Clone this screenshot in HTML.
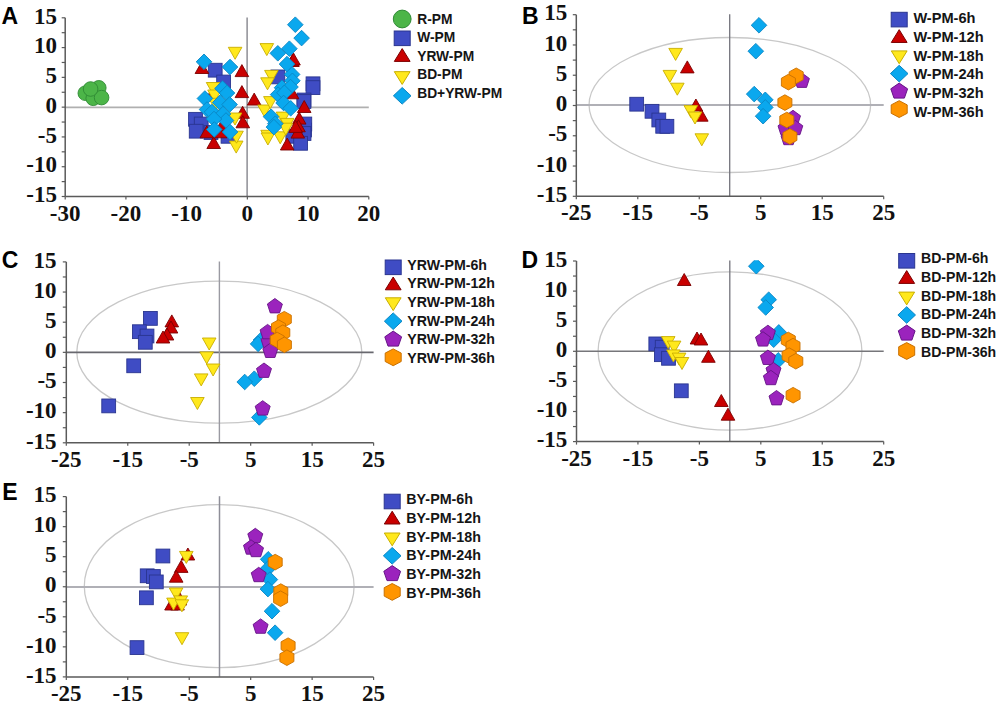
<!DOCTYPE html>
<html><head><meta charset="utf-8"><title>PCA score plots</title>
<style>
html,body{margin:0;padding:0;background:#fff;}
body{width:1000px;height:712px;overflow:hidden;}
svg{display:block;}
</style></head><body>
<svg width="1000" height="712" viewBox="0 0 1000 712">
<rect width="1000" height="712" fill="#fff"/>
<text x="1.5" y="23.8" style="font-family:&quot;Liberation Sans&quot;,sans-serif;font-weight:bold;font-size:23px" fill="#000">A</text>
<line x1="65.2" y1="107.4" x2="368.8" y2="107.4" stroke="#b0b0b0" stroke-width="1.8"/>
<line x1="247.1" y1="17.4" x2="247.1" y2="196.5" stroke="#7c7c84" stroke-width="1.3"/>
<line x1="65.2" y1="17.8" x2="65.2" y2="196.5" stroke="#5a5a5a" stroke-width="1.5"/>
<line x1="65.2" y1="196.5" x2="368.8" y2="196.5" stroke="#5a5a5a" stroke-width="1.5"/>
<line x1="61.7" y1="196.5" x2="65.2" y2="196.5" stroke="#5a5a5a" stroke-width="1.2"/>
<line x1="61.7" y1="181.61" x2="65.2" y2="181.61" stroke="#5a5a5a" stroke-width="1.2"/>
<line x1="61.7" y1="166.72" x2="65.2" y2="166.72" stroke="#5a5a5a" stroke-width="1.2"/>
<line x1="61.7" y1="151.82" x2="65.2" y2="151.82" stroke="#5a5a5a" stroke-width="1.2"/>
<line x1="61.7" y1="136.93" x2="65.2" y2="136.93" stroke="#5a5a5a" stroke-width="1.2"/>
<line x1="61.7" y1="122.04" x2="65.2" y2="122.04" stroke="#5a5a5a" stroke-width="1.2"/>
<line x1="61.7" y1="107.15" x2="65.2" y2="107.15" stroke="#5a5a5a" stroke-width="1.2"/>
<line x1="61.7" y1="92.26" x2="65.2" y2="92.26" stroke="#5a5a5a" stroke-width="1.2"/>
<line x1="61.7" y1="77.37" x2="65.2" y2="77.37" stroke="#5a5a5a" stroke-width="1.2"/>
<line x1="61.7" y1="62.47" x2="65.2" y2="62.47" stroke="#5a5a5a" stroke-width="1.2"/>
<line x1="61.7" y1="47.58" x2="65.2" y2="47.58" stroke="#5a5a5a" stroke-width="1.2"/>
<line x1="61.7" y1="32.69" x2="65.2" y2="32.69" stroke="#5a5a5a" stroke-width="1.2"/>
<line x1="61.7" y1="17.8" x2="65.2" y2="17.8" stroke="#5a5a5a" stroke-width="1.2"/>
<line x1="65.2" y1="196.5" x2="65.2" y2="199.5" stroke="#5a5a5a" stroke-width="1.2"/>
<line x1="125.92" y1="196.5" x2="125.92" y2="199.5" stroke="#5a5a5a" stroke-width="1.2"/>
<line x1="186.64" y1="196.5" x2="186.64" y2="199.5" stroke="#5a5a5a" stroke-width="1.2"/>
<line x1="247.36" y1="196.5" x2="247.36" y2="199.5" stroke="#5a5a5a" stroke-width="1.2"/>
<line x1="308.08" y1="196.5" x2="308.08" y2="199.5" stroke="#5a5a5a" stroke-width="1.2"/>
<line x1="368.8" y1="196.5" x2="368.8" y2="199.5" stroke="#5a5a5a" stroke-width="1.2"/>
<text x="57" y="23.5" text-anchor="end" style="font-family:&quot;Liberation Serif&quot;,serif;font-weight:bold;font-size:23px" fill="#111">15</text>
<text x="57" y="53.28" text-anchor="end" style="font-family:&quot;Liberation Serif&quot;,serif;font-weight:bold;font-size:23px" fill="#111">10</text>
<text x="57" y="83.07" text-anchor="end" style="font-family:&quot;Liberation Serif&quot;,serif;font-weight:bold;font-size:23px" fill="#111">5</text>
<text x="57" y="112.85" text-anchor="end" style="font-family:&quot;Liberation Serif&quot;,serif;font-weight:bold;font-size:23px" fill="#111">0</text>
<text x="57" y="142.63" text-anchor="end" style="font-family:&quot;Liberation Serif&quot;,serif;font-weight:bold;font-size:23px" fill="#111">-5</text>
<text x="57" y="172.42" text-anchor="end" style="font-family:&quot;Liberation Serif&quot;,serif;font-weight:bold;font-size:23px" fill="#111">-10</text>
<text x="57" y="202.2" text-anchor="end" style="font-family:&quot;Liberation Serif&quot;,serif;font-weight:bold;font-size:23px" fill="#111">-15</text>
<text x="65.2" y="220.5" text-anchor="middle" style="font-family:&quot;Liberation Serif&quot;,serif;font-weight:bold;font-size:23px" fill="#111">-30</text>
<text x="125.92" y="220.5" text-anchor="middle" style="font-family:&quot;Liberation Serif&quot;,serif;font-weight:bold;font-size:23px" fill="#111">-20</text>
<text x="186.64" y="220.5" text-anchor="middle" style="font-family:&quot;Liberation Serif&quot;,serif;font-weight:bold;font-size:23px" fill="#111">-10</text>
<text x="247.36" y="220.5" text-anchor="middle" style="font-family:&quot;Liberation Serif&quot;,serif;font-weight:bold;font-size:23px" fill="#111">0</text>
<text x="308.08" y="220.5" text-anchor="middle" style="font-family:&quot;Liberation Serif&quot;,serif;font-weight:bold;font-size:23px" fill="#111">10</text>
<text x="368.8" y="220.5" text-anchor="middle" style="font-family:&quot;Liberation Serif&quot;,serif;font-weight:bold;font-size:23px" fill="#111">20</text>
<ellipse cx="85.3" cy="93.2" rx="7.3" ry="7.3" fill="#4cb548" stroke="#2f8a34" stroke-width="0.9"/>
<ellipse cx="93.2" cy="98.3" rx="7.3" ry="7.3" fill="#4cb548" stroke="#2f8a34" stroke-width="0.9"/>
<ellipse cx="98.8" cy="87.8" rx="7.3" ry="7.3" fill="#4cb548" stroke="#2f8a34" stroke-width="0.9"/>
<ellipse cx="101.6" cy="97.6" rx="7.3" ry="7.3" fill="#4cb548" stroke="#2f8a34" stroke-width="0.9"/>
<ellipse cx="90.6" cy="89" rx="7.3" ry="7.3" fill="#4cb548" stroke="#2f8a34" stroke-width="0.9"/>
<rect x="208.3" y="63.3" width="13.8" height="13.8" fill="#3f4cc4" stroke="#2a3590" stroke-width="0.9"/>
<rect x="216.7" y="75.1" width="13.8" height="13.8" fill="#3f4cc4" stroke="#2a3590" stroke-width="0.9"/>
<rect x="188.6" y="112.4" width="13.8" height="13.8" fill="#3f4cc4" stroke="#2a3590" stroke-width="0.9"/>
<rect x="194.3" y="117.1" width="13.8" height="13.8" fill="#3f4cc4" stroke="#2a3590" stroke-width="0.9"/>
<rect x="189.3" y="124.3" width="13.8" height="13.8" fill="#3f4cc4" stroke="#2a3590" stroke-width="0.9"/>
<rect x="204.1" y="125.6" width="13.8" height="13.8" fill="#3f4cc4" stroke="#2a3590" stroke-width="0.9"/>
<rect x="221.1" y="129.4" width="13.8" height="13.8" fill="#3f4cc4" stroke="#2a3590" stroke-width="0.9"/>
<rect x="271" y="70" width="13.8" height="13.8" fill="#3f4cc4" stroke="#2a3590" stroke-width="0.9"/>
<rect x="306.1" y="76.9" width="13.8" height="13.8" fill="#3f4cc4" stroke="#2a3590" stroke-width="0.9"/>
<rect x="306.1" y="80.7" width="13.8" height="13.8" fill="#3f4cc4" stroke="#2a3590" stroke-width="0.9"/>
<rect x="297.1" y="93.1" width="13.8" height="13.8" fill="#3f4cc4" stroke="#2a3590" stroke-width="0.9"/>
<rect x="297" y="94.6" width="13.8" height="13.8" fill="#3f4cc4" stroke="#2a3590" stroke-width="0.9"/>
<rect x="297.6" y="123.1" width="13.8" height="13.8" fill="#3f4cc4" stroke="#2a3590" stroke-width="0.9"/>
<rect x="297.9" y="117.1" width="13.8" height="13.8" fill="#3f4cc4" stroke="#2a3590" stroke-width="0.9"/>
<rect x="297.1" y="126.6" width="13.8" height="13.8" fill="#3f4cc4" stroke="#2a3590" stroke-width="0.9"/>
<rect x="285.9" y="129.4" width="13.8" height="13.8" fill="#3f4cc4" stroke="#2a3590" stroke-width="0.9"/>
<rect x="293.7" y="136.4" width="13.8" height="13.8" fill="#3f4cc4" stroke="#2a3590" stroke-width="0.9"/>
<polygon points="201.9,61.5 208.7,73.5 195.1,73.5" fill="#c90000" stroke="#7a0000" stroke-width="0.9"/>
<polygon points="241.9,64.6 248.7,76.6 235.1,76.6" fill="#c90000" stroke="#7a0000" stroke-width="0.9"/>
<polygon points="241.9,85.6 248.7,97.6 235.1,97.6" fill="#c90000" stroke="#7a0000" stroke-width="0.9"/>
<polygon points="211.5,89 218.3,101 204.7,101" fill="#c90000" stroke="#7a0000" stroke-width="0.9"/>
<polygon points="242.6,106.3 249.4,118.3 235.8,118.3" fill="#c90000" stroke="#7a0000" stroke-width="0.9"/>
<polygon points="242.8,115.8 249.6,127.8 236,127.8" fill="#c90000" stroke="#7a0000" stroke-width="0.9"/>
<polygon points="213.7,136.5 220.5,148.5 206.9,148.5" fill="#c90000" stroke="#7a0000" stroke-width="0.9"/>
<polygon points="206.8,125.8 213.6,137.8 200,137.8" fill="#c90000" stroke="#7a0000" stroke-width="0.9"/>
<polygon points="220.3,125.8 227.1,137.8 213.5,137.8" fill="#c90000" stroke="#7a0000" stroke-width="0.9"/>
<polygon points="222.2,119 229,131 215.4,131" fill="#c90000" stroke="#7a0000" stroke-width="0.9"/>
<polygon points="292.4,54.5 299.2,66.5 285.6,66.5" fill="#c90000" stroke="#7a0000" stroke-width="0.9"/>
<polygon points="293.5,53 300.3,65 286.7,65" fill="#c90000" stroke="#7a0000" stroke-width="0.9"/>
<polygon points="292.1,86.8 298.9,98.8 285.3,98.8" fill="#c90000" stroke="#7a0000" stroke-width="0.9"/>
<polygon points="254.2,93.1 261,105.1 247.4,105.1" fill="#c90000" stroke="#7a0000" stroke-width="0.9"/>
<polygon points="304.2,100.5 311,112.5 297.4,112.5" fill="#c90000" stroke="#7a0000" stroke-width="0.9"/>
<polygon points="299.2,112.1 306,124.1 292.4,124.1" fill="#c90000" stroke="#7a0000" stroke-width="0.9"/>
<polygon points="298.5,119.8 305.3,131.8 291.7,131.8" fill="#c90000" stroke="#7a0000" stroke-width="0.9"/>
<polygon points="297.8,126.1 304.6,138.1 291,138.1" fill="#c90000" stroke="#7a0000" stroke-width="0.9"/>
<polygon points="287.2,138 294,150 280.4,150" fill="#c90000" stroke="#7a0000" stroke-width="0.9"/>
<polygon points="295.6,120.4 302.4,132.4 288.8,132.4" fill="#c90000" stroke="#7a0000" stroke-width="0.9"/>
<polygon points="228.3,47.3 241.9,47.3 235.1,59.3" fill="#ffe81c" stroke="#c8ae00" stroke-width="0.9"/>
<polygon points="206.3,82.5 219.9,82.5 213.1,94.5" fill="#ffe81c" stroke="#c8ae00" stroke-width="0.9"/>
<polygon points="207.7,90 221.3,90 214.5,102" fill="#ffe81c" stroke="#c8ae00" stroke-width="0.9"/>
<polygon points="208.8,98.3 222.4,98.3 215.6,110.3" fill="#ffe81c" stroke="#c8ae00" stroke-width="0.9"/>
<polygon points="208.7,110 222.3,110 215.5,122" fill="#ffe81c" stroke="#c8ae00" stroke-width="0.9"/>
<polygon points="204.2,111 217.8,111 211,123" fill="#ffe81c" stroke="#c8ae00" stroke-width="0.9"/>
<polygon points="228.2,113 241.8,113 235,125" fill="#ffe81c" stroke="#c8ae00" stroke-width="0.9"/>
<polygon points="229.4,141.1 243,141.1 236.2,153.1" fill="#ffe81c" stroke="#c8ae00" stroke-width="0.9"/>
<polygon points="229.7,131.2 243.3,131.2 236.5,143.2" fill="#ffe81c" stroke="#c8ae00" stroke-width="0.9"/>
<polygon points="260,43.6 273.6,43.6 266.8,55.6" fill="#ffe81c" stroke="#c8ae00" stroke-width="0.9"/>
<polygon points="264.6,70.4 278.2,70.4 271.4,82.4" fill="#ffe81c" stroke="#c8ae00" stroke-width="0.9"/>
<polygon points="260.7,77.8 274.3,77.8 267.5,89.8" fill="#ffe81c" stroke="#c8ae00" stroke-width="0.9"/>
<polygon points="257.7,105 271.3,105 264.5,117" fill="#ffe81c" stroke="#c8ae00" stroke-width="0.9"/>
<polygon points="263.6,96.6 277.2,96.6 270.4,108.6" fill="#ffe81c" stroke="#c8ae00" stroke-width="0.9"/>
<polygon points="276.2,112.1 289.8,112.1 283,124.1" fill="#ffe81c" stroke="#c8ae00" stroke-width="0.9"/>
<polygon points="280.4,118.4 294,118.4 287.2,130.4" fill="#ffe81c" stroke="#c8ae00" stroke-width="0.9"/>
<polygon points="260.8,130.3 274.4,130.3 267.6,142.3" fill="#ffe81c" stroke="#c8ae00" stroke-width="0.9"/>
<polygon points="273.4,131.8 287,131.8 280.2,143.8" fill="#ffe81c" stroke="#c8ae00" stroke-width="0.9"/>
<polygon points="261.1,133 274.7,133 267.9,145" fill="#ffe81c" stroke="#c8ae00" stroke-width="0.9"/>
<polygon points="279,123.2 292.6,123.2 285.8,135.2" fill="#ffe81c" stroke="#c8ae00" stroke-width="0.9"/>
<polygon points="204,54 211.8,61.8 204,69.6 196.2,61.8" fill="#0aa8ee" stroke="#0a86c4" stroke-width="0.9"/>
<polygon points="230,59.2 237.8,67 230,74.8 222.2,67" fill="#0aa8ee" stroke="#0a86c4" stroke-width="0.9"/>
<polygon points="222.5,80.7 230.3,88.5 222.5,96.3 214.7,88.5" fill="#0aa8ee" stroke="#0a86c4" stroke-width="0.9"/>
<polygon points="227,85.2 234.8,93 227,100.8 219.2,93" fill="#0aa8ee" stroke="#0a86c4" stroke-width="0.9"/>
<polygon points="204.9,90.7 212.7,98.5 204.9,106.3 197.1,98.5" fill="#0aa8ee" stroke="#0a86c4" stroke-width="0.9"/>
<polygon points="220.2,94.8 228,102.6 220.2,110.4 212.4,102.6" fill="#0aa8ee" stroke="#0a86c4" stroke-width="0.9"/>
<polygon points="229.6,96.7 237.4,104.5 229.6,112.3 221.8,104.5" fill="#0aa8ee" stroke="#0a86c4" stroke-width="0.9"/>
<polygon points="207,101.7 214.8,109.5 207,117.3 199.2,109.5" fill="#0aa8ee" stroke="#0a86c4" stroke-width="0.9"/>
<polygon points="212,104.2 219.8,112 212,119.8 204.2,112" fill="#0aa8ee" stroke="#0a86c4" stroke-width="0.9"/>
<polygon points="223,106.2 230.8,114 223,121.8 215.2,114" fill="#0aa8ee" stroke="#0a86c4" stroke-width="0.9"/>
<polygon points="226,112.7 233.8,120.5 226,128.3 218.2,120.5" fill="#0aa8ee" stroke="#0a86c4" stroke-width="0.9"/>
<polygon points="214,111.2 221.8,119 214,126.8 206.2,119" fill="#0aa8ee" stroke="#0a86c4" stroke-width="0.9"/>
<polygon points="214.3,121.7 222.1,129.5 214.3,137.3 206.5,129.5" fill="#0aa8ee" stroke="#0a86c4" stroke-width="0.9"/>
<polygon points="230,124.2 237.8,132 230,139.8 222.2,132" fill="#0aa8ee" stroke="#0a86c4" stroke-width="0.9"/>
<polygon points="295.3,16.9 303.1,24.7 295.3,32.5 287.5,24.7" fill="#0aa8ee" stroke="#0a86c4" stroke-width="0.9"/>
<polygon points="301.6,30.3 309.4,38.1 301.6,45.9 293.8,38.1" fill="#0aa8ee" stroke="#0a86c4" stroke-width="0.9"/>
<polygon points="289.4,40.9 297.2,48.7 289.4,56.5 281.6,48.7" fill="#0aa8ee" stroke="#0a86c4" stroke-width="0.9"/>
<polygon points="277.8,45.5 285.6,53.3 277.8,61.1 270,53.3" fill="#0aa8ee" stroke="#0a86c4" stroke-width="0.9"/>
<polygon points="287,56.3 294.8,64.1 287,71.9 279.2,64.1" fill="#0aa8ee" stroke="#0a86c4" stroke-width="0.9"/>
<polygon points="292.1,66.6 299.9,74.4 292.1,82.2 284.3,74.4" fill="#0aa8ee" stroke="#0a86c4" stroke-width="0.9"/>
<polygon points="292.4,73 300.2,80.8 292.4,88.6 284.6,80.8" fill="#0aa8ee" stroke="#0a86c4" stroke-width="0.9"/>
<polygon points="282,79.9 289.8,87.7 282,95.5 274.2,87.7" fill="#0aa8ee" stroke="#0a86c4" stroke-width="0.9"/>
<polygon points="290.5,79.2 298.3,87 290.5,94.8 282.7,87" fill="#0aa8ee" stroke="#0a86c4" stroke-width="0.9"/>
<polygon points="278.1,86.8 285.9,94.6 278.1,102.4 270.3,94.6" fill="#0aa8ee" stroke="#0a86c4" stroke-width="0.9"/>
<polygon points="284.4,85 292.2,92.8 284.4,100.6 276.6,92.8" fill="#0aa8ee" stroke="#0a86c4" stroke-width="0.9"/>
<polygon points="283.6,95.2 291.4,103 283.6,110.8 275.8,103" fill="#0aa8ee" stroke="#0a86c4" stroke-width="0.9"/>
<polygon points="290.7,100.5 298.5,108.3 290.7,116.1 282.9,108.3" fill="#0aa8ee" stroke="#0a86c4" stroke-width="0.9"/>
<polygon points="271.1,108.9 278.9,116.7 271.1,124.5 263.3,116.7" fill="#0aa8ee" stroke="#0a86c4" stroke-width="0.9"/>
<polygon points="275.3,115.9 283.1,123.7 275.3,131.5 267.5,123.7" fill="#0aa8ee" stroke="#0a86c4" stroke-width="0.9"/>
<polygon points="273.9,119.3 281.7,127.1 273.9,134.9 266.1,127.1" fill="#0aa8ee" stroke="#0a86c4" stroke-width="0.9"/>
<ellipse cx="402.2" cy="19" rx="8.9" ry="8.9" fill="#4cb548" stroke="#2f8a34" stroke-width="1.0"/>
<text x="417.2" y="23.5" style="font-family:&quot;Liberation Sans&quot;,sans-serif;font-weight:bold;font-size:13.8px" fill="#151515">R-PM</text>
<rect x="394.2" y="31" width="16" height="14.6" fill="#3f4cc4" stroke="#2a3590" stroke-width="1.0"/>
<text x="417.2" y="42.3" style="font-family:&quot;Liberation Sans&quot;,sans-serif;font-weight:bold;font-size:13.8px" fill="#151515">W-PM</text>
<polygon points="402.2,48.6 410.1,61.4 394.3,61.4" fill="#c90000" stroke="#7a0000" stroke-width="1.0"/>
<text x="417.2" y="60.7" style="font-family:&quot;Liberation Sans&quot;,sans-serif;font-weight:bold;font-size:13.8px" fill="#151515">YRW-PM</text>
<polygon points="394.3,71.65 410.1,71.65 402.2,84.45" fill="#ffe81c" stroke="#c8ae00" stroke-width="1.0"/>
<text x="417.2" y="79.3" style="font-family:&quot;Liberation Sans&quot;,sans-serif;font-weight:bold;font-size:13.8px" fill="#151515">BD-PM</text>
<polygon points="402.2,87.5 411,95.8 402.2,104.1 393.4,95.8" fill="#0aa8ee" stroke="#0a86c4" stroke-width="1.0"/>
<text x="417.2" y="97.9" style="font-family:&quot;Liberation Sans&quot;,sans-serif;font-weight:bold;font-size:13.8px" fill="#151515">BD+YRW-PM</text>
<text x="522" y="23.8" style="font-family:&quot;Liberation Sans&quot;,sans-serif;font-weight:bold;font-size:23px" fill="#000">B</text>
<ellipse cx="729.85" cy="105" rx="140.8" ry="67.5" fill="none" stroke="#c8c8c8" stroke-width="1.3"/>
<line x1="576.3" y1="105" x2="883.7" y2="105" stroke="#b0b0b6" stroke-width="1.8"/>
<line x1="729.7" y1="14.3" x2="729.7" y2="196.3" stroke="#74747c" stroke-width="1.3"/>
<line x1="576.3" y1="14.7" x2="576.3" y2="196.3" stroke="#5a5a5a" stroke-width="1.5"/>
<line x1="576.3" y1="196.3" x2="883.7" y2="196.3" stroke="#5a5a5a" stroke-width="1.5"/>
<line x1="572.8" y1="196.3" x2="576.3" y2="196.3" stroke="#5a5a5a" stroke-width="1.2"/>
<line x1="572.8" y1="181.17" x2="576.3" y2="181.17" stroke="#5a5a5a" stroke-width="1.2"/>
<line x1="572.8" y1="166.03" x2="576.3" y2="166.03" stroke="#5a5a5a" stroke-width="1.2"/>
<line x1="572.8" y1="150.9" x2="576.3" y2="150.9" stroke="#5a5a5a" stroke-width="1.2"/>
<line x1="572.8" y1="135.77" x2="576.3" y2="135.77" stroke="#5a5a5a" stroke-width="1.2"/>
<line x1="572.8" y1="120.63" x2="576.3" y2="120.63" stroke="#5a5a5a" stroke-width="1.2"/>
<line x1="572.8" y1="105.5" x2="576.3" y2="105.5" stroke="#5a5a5a" stroke-width="1.2"/>
<line x1="572.8" y1="90.37" x2="576.3" y2="90.37" stroke="#5a5a5a" stroke-width="1.2"/>
<line x1="572.8" y1="75.23" x2="576.3" y2="75.23" stroke="#5a5a5a" stroke-width="1.2"/>
<line x1="572.8" y1="60.1" x2="576.3" y2="60.1" stroke="#5a5a5a" stroke-width="1.2"/>
<line x1="572.8" y1="44.97" x2="576.3" y2="44.97" stroke="#5a5a5a" stroke-width="1.2"/>
<line x1="572.8" y1="29.83" x2="576.3" y2="29.83" stroke="#5a5a5a" stroke-width="1.2"/>
<line x1="572.8" y1="14.7" x2="576.3" y2="14.7" stroke="#5a5a5a" stroke-width="1.2"/>
<line x1="576.3" y1="196.3" x2="576.3" y2="199.3" stroke="#5a5a5a" stroke-width="1.2"/>
<line x1="637.78" y1="196.3" x2="637.78" y2="199.3" stroke="#5a5a5a" stroke-width="1.2"/>
<line x1="699.26" y1="196.3" x2="699.26" y2="199.3" stroke="#5a5a5a" stroke-width="1.2"/>
<line x1="760.74" y1="196.3" x2="760.74" y2="199.3" stroke="#5a5a5a" stroke-width="1.2"/>
<line x1="822.22" y1="196.3" x2="822.22" y2="199.3" stroke="#5a5a5a" stroke-width="1.2"/>
<line x1="883.7" y1="196.3" x2="883.7" y2="199.3" stroke="#5a5a5a" stroke-width="1.2"/>
<text x="567.3" y="20.4" text-anchor="end" style="font-family:&quot;Liberation Serif&quot;,serif;font-weight:bold;font-size:23px" fill="#111">15</text>
<text x="567.3" y="50.67" text-anchor="end" style="font-family:&quot;Liberation Serif&quot;,serif;font-weight:bold;font-size:23px" fill="#111">10</text>
<text x="567.3" y="80.93" text-anchor="end" style="font-family:&quot;Liberation Serif&quot;,serif;font-weight:bold;font-size:23px" fill="#111">5</text>
<text x="567.3" y="111.2" text-anchor="end" style="font-family:&quot;Liberation Serif&quot;,serif;font-weight:bold;font-size:23px" fill="#111">0</text>
<text x="567.3" y="141.47" text-anchor="end" style="font-family:&quot;Liberation Serif&quot;,serif;font-weight:bold;font-size:23px" fill="#111">-5</text>
<text x="567.3" y="171.73" text-anchor="end" style="font-family:&quot;Liberation Serif&quot;,serif;font-weight:bold;font-size:23px" fill="#111">-10</text>
<text x="567.3" y="202" text-anchor="end" style="font-family:&quot;Liberation Serif&quot;,serif;font-weight:bold;font-size:23px" fill="#111">-15</text>
<text x="576.3" y="220.3" text-anchor="middle" style="font-family:&quot;Liberation Serif&quot;,serif;font-weight:bold;font-size:23px" fill="#111">-25</text>
<text x="637.78" y="220.3" text-anchor="middle" style="font-family:&quot;Liberation Serif&quot;,serif;font-weight:bold;font-size:23px" fill="#111">-15</text>
<text x="699.26" y="220.3" text-anchor="middle" style="font-family:&quot;Liberation Serif&quot;,serif;font-weight:bold;font-size:23px" fill="#111">-5</text>
<text x="760.74" y="220.3" text-anchor="middle" style="font-family:&quot;Liberation Serif&quot;,serif;font-weight:bold;font-size:23px" fill="#111">5</text>
<text x="822.22" y="220.3" text-anchor="middle" style="font-family:&quot;Liberation Serif&quot;,serif;font-weight:bold;font-size:23px" fill="#111">15</text>
<text x="883.7" y="220.3" text-anchor="middle" style="font-family:&quot;Liberation Serif&quot;,serif;font-weight:bold;font-size:23px" fill="#111">25</text>
<rect x="629.8" y="97.3" width="13.8" height="13.8" fill="#3f4cc4" stroke="#2a3590" stroke-width="0.9"/>
<rect x="645.1" y="104.4" width="13.8" height="13.8" fill="#3f4cc4" stroke="#2a3590" stroke-width="0.9"/>
<rect x="651.9" y="113.1" width="13.8" height="13.8" fill="#3f4cc4" stroke="#2a3590" stroke-width="0.9"/>
<rect x="655.8" y="119.4" width="13.8" height="13.8" fill="#3f4cc4" stroke="#2a3590" stroke-width="0.9"/>
<rect x="660" y="119.4" width="13.8" height="13.8" fill="#3f4cc4" stroke="#2a3590" stroke-width="0.9"/>
<polygon points="687.3,60.9 694.1,72.9 680.5,72.9" fill="#c90000" stroke="#7a0000" stroke-width="0.9"/>
<polygon points="695.9,99 702.7,111 689.1,111" fill="#c90000" stroke="#7a0000" stroke-width="0.9"/>
<polygon points="701.3,109.2 708.1,121.2 694.5,121.2" fill="#c90000" stroke="#7a0000" stroke-width="0.9"/>
<polygon points="668.8,48.4 682.4,48.4 675.6,60.4" fill="#ffe81c" stroke="#c8ae00" stroke-width="0.9"/>
<polygon points="663.1,70.4 676.7,70.4 669.9,82.4" fill="#ffe81c" stroke="#c8ae00" stroke-width="0.9"/>
<polygon points="670.5,83.2 684.1,83.2 677.3,95.2" fill="#ffe81c" stroke="#c8ae00" stroke-width="0.9"/>
<polygon points="684,105.6 697.6,105.6 690.8,117.6" fill="#ffe81c" stroke="#c8ae00" stroke-width="0.9"/>
<polygon points="688.2,112 701.8,112 695,124" fill="#ffe81c" stroke="#c8ae00" stroke-width="0.9"/>
<polygon points="695,133.8 708.6,133.8 701.8,145.8" fill="#ffe81c" stroke="#c8ae00" stroke-width="0.9"/>
<polygon points="759,17.5 766.8,25.3 759,33.1 751.2,25.3" fill="#0aa8ee" stroke="#0a86c4" stroke-width="0.9"/>
<polygon points="755.8,43.4 763.6,51.2 755.8,59 748,51.2" fill="#0aa8ee" stroke="#0a86c4" stroke-width="0.9"/>
<polygon points="754.2,86.3 762,94.1 754.2,101.9 746.4,94.1" fill="#0aa8ee" stroke="#0a86c4" stroke-width="0.9"/>
<polygon points="765.3,92 773.1,99.8 765.3,107.6 757.5,99.8" fill="#0aa8ee" stroke="#0a86c4" stroke-width="0.9"/>
<polygon points="765.3,99.6 773.1,107.4 765.3,115.2 757.5,107.4" fill="#0aa8ee" stroke="#0a86c4" stroke-width="0.9"/>
<polygon points="763.1,108.4 770.9,116.2 763.1,124 755.3,116.2" fill="#0aa8ee" stroke="#0a86c4" stroke-width="0.9"/>
<polygon points="801.9,73 809.4,78.5 806.54,87.4 797.26,87.4 794.4,78.5" fill="#9b23bd" stroke="#661487" stroke-width="0.9"/>
<polygon points="793,110.3 800.5,115.8 797.64,124.7 788.36,124.7 785.5,115.8" fill="#9b23bd" stroke="#661487" stroke-width="0.9"/>
<polygon points="785.5,120.3 793,125.8 790.14,134.7 780.86,134.7 778,125.8" fill="#9b23bd" stroke="#661487" stroke-width="0.9"/>
<polygon points="795.3,120.3 802.8,125.8 799.94,134.7 790.66,134.7 787.8,125.8" fill="#9b23bd" stroke="#661487" stroke-width="0.9"/>
<polygon points="788.5,130.3 796,135.8 793.14,144.7 783.86,144.7 781,135.8" fill="#9b23bd" stroke="#661487" stroke-width="0.9"/>
<polygon points="796.2,68 803.2,71.9 803.2,79.7 796.2,83.6 789.2,79.7 789.2,71.9" fill="#ff9500" stroke="#c87000" stroke-width="0.9"/>
<polygon points="788.4,74.3 795.4,78.2 795.4,86 788.4,89.9 781.4,86 781.4,78.2" fill="#ff9500" stroke="#c87000" stroke-width="0.9"/>
<polygon points="784.9,94.8 791.9,98.7 791.9,106.5 784.9,110.4 777.9,106.5 777.9,98.7" fill="#ff9500" stroke="#c87000" stroke-width="0.9"/>
<polygon points="786.8,112.2 793.8,116.1 793.8,123.9 786.8,127.8 779.8,123.9 779.8,116.1" fill="#ff9500" stroke="#c87000" stroke-width="0.9"/>
<polygon points="789.9,128.7 796.9,132.6 796.9,140.4 789.9,144.3 782.9,140.4 782.9,132.6" fill="#ff9500" stroke="#c87000" stroke-width="0.9"/>
<rect x="891.2" y="12.3" width="16" height="14.6" fill="#3f4cc4" stroke="#2a3590" stroke-width="1.0"/>
<text x="913.4" y="23.2" style="font-family:&quot;Liberation Sans&quot;,sans-serif;font-weight:bold;font-size:14.6px" fill="#151515">W-PM-6h</text>
<polygon points="899.2,29.65 907.1,42.45 891.3,42.45" fill="#c90000" stroke="#7a0000" stroke-width="1.0"/>
<text x="913.4" y="42" style="font-family:&quot;Liberation Sans&quot;,sans-serif;font-weight:bold;font-size:14.6px" fill="#151515">W-PM-12h</text>
<polygon points="891.3,50.9 907.1,50.9 899.2,63.7" fill="#ffe81c" stroke="#c8ae00" stroke-width="1.0"/>
<text x="913.4" y="60.7" style="font-family:&quot;Liberation Sans&quot;,sans-serif;font-weight:bold;font-size:14.6px" fill="#151515">W-PM-18h</text>
<polygon points="899.2,65.3 908,73.6 899.2,81.9 890.4,73.6" fill="#0aa8ee" stroke="#0a86c4" stroke-width="1.0"/>
<text x="913.4" y="79.4" style="font-family:&quot;Liberation Sans&quot;,sans-serif;font-weight:bold;font-size:14.6px" fill="#151515">W-PM-24h</text>
<polygon points="899.2,83.1 907.6,88.83 904.39,98.1 894.01,98.1 890.8,88.83" fill="#9b23bd" stroke="#661487" stroke-width="1.0"/>
<text x="913.4" y="98.1" style="font-family:&quot;Liberation Sans&quot;,sans-serif;font-weight:bold;font-size:14.6px" fill="#151515">W-PM-32h</text>
<polygon points="899.2,100.7 907.2,104.9 907.2,113.3 899.2,117.5 891.2,113.3 891.2,104.9" fill="#ff9500" stroke="#c87000" stroke-width="1.0"/>
<text x="913.4" y="116.8" style="font-family:&quot;Liberation Sans&quot;,sans-serif;font-weight:bold;font-size:14.6px" fill="#151515">W-PM-36h</text>
<text x="1.8" y="268" style="font-family:&quot;Liberation Sans&quot;,sans-serif;font-weight:bold;font-size:23px" fill="#000">C</text>
<ellipse cx="219.3" cy="352.1" rx="142.5" ry="71" fill="none" stroke="#c8c8c8" stroke-width="1.3"/>
<line x1="66.3" y1="352.45" x2="373.6" y2="352.45" stroke="#68686f" stroke-width="1.8"/>
<line x1="219.4" y1="261.5" x2="219.4" y2="442.8" stroke="#9a9aa2" stroke-width="1.4"/>
<line x1="66.3" y1="261.9" x2="66.3" y2="442.8" stroke="#5a5a5a" stroke-width="1.5"/>
<line x1="66.3" y1="442.8" x2="373.6" y2="442.8" stroke="#5a5a5a" stroke-width="1.5"/>
<line x1="62.8" y1="442.8" x2="66.3" y2="442.8" stroke="#5a5a5a" stroke-width="1.2"/>
<line x1="62.8" y1="427.73" x2="66.3" y2="427.73" stroke="#5a5a5a" stroke-width="1.2"/>
<line x1="62.8" y1="412.65" x2="66.3" y2="412.65" stroke="#5a5a5a" stroke-width="1.2"/>
<line x1="62.8" y1="397.57" x2="66.3" y2="397.57" stroke="#5a5a5a" stroke-width="1.2"/>
<line x1="62.8" y1="382.5" x2="66.3" y2="382.5" stroke="#5a5a5a" stroke-width="1.2"/>
<line x1="62.8" y1="367.43" x2="66.3" y2="367.43" stroke="#5a5a5a" stroke-width="1.2"/>
<line x1="62.8" y1="352.35" x2="66.3" y2="352.35" stroke="#5a5a5a" stroke-width="1.2"/>
<line x1="62.8" y1="337.27" x2="66.3" y2="337.27" stroke="#5a5a5a" stroke-width="1.2"/>
<line x1="62.8" y1="322.2" x2="66.3" y2="322.2" stroke="#5a5a5a" stroke-width="1.2"/>
<line x1="62.8" y1="307.12" x2="66.3" y2="307.12" stroke="#5a5a5a" stroke-width="1.2"/>
<line x1="62.8" y1="292.05" x2="66.3" y2="292.05" stroke="#5a5a5a" stroke-width="1.2"/>
<line x1="62.8" y1="276.97" x2="66.3" y2="276.97" stroke="#5a5a5a" stroke-width="1.2"/>
<line x1="62.8" y1="261.9" x2="66.3" y2="261.9" stroke="#5a5a5a" stroke-width="1.2"/>
<line x1="66.3" y1="442.8" x2="66.3" y2="445.8" stroke="#5a5a5a" stroke-width="1.2"/>
<line x1="127.76" y1="442.8" x2="127.76" y2="445.8" stroke="#5a5a5a" stroke-width="1.2"/>
<line x1="189.22" y1="442.8" x2="189.22" y2="445.8" stroke="#5a5a5a" stroke-width="1.2"/>
<line x1="250.68" y1="442.8" x2="250.68" y2="445.8" stroke="#5a5a5a" stroke-width="1.2"/>
<line x1="312.14" y1="442.8" x2="312.14" y2="445.8" stroke="#5a5a5a" stroke-width="1.2"/>
<line x1="373.6" y1="442.8" x2="373.6" y2="445.8" stroke="#5a5a5a" stroke-width="1.2"/>
<text x="56.6" y="267.6" text-anchor="end" style="font-family:&quot;Liberation Serif&quot;,serif;font-weight:bold;font-size:23px" fill="#111">15</text>
<text x="56.6" y="297.75" text-anchor="end" style="font-family:&quot;Liberation Serif&quot;,serif;font-weight:bold;font-size:23px" fill="#111">10</text>
<text x="56.6" y="327.9" text-anchor="end" style="font-family:&quot;Liberation Serif&quot;,serif;font-weight:bold;font-size:23px" fill="#111">5</text>
<text x="56.6" y="358.05" text-anchor="end" style="font-family:&quot;Liberation Serif&quot;,serif;font-weight:bold;font-size:23px" fill="#111">0</text>
<text x="56.6" y="388.2" text-anchor="end" style="font-family:&quot;Liberation Serif&quot;,serif;font-weight:bold;font-size:23px" fill="#111">-5</text>
<text x="56.6" y="418.35" text-anchor="end" style="font-family:&quot;Liberation Serif&quot;,serif;font-weight:bold;font-size:23px" fill="#111">-10</text>
<text x="56.6" y="448.5" text-anchor="end" style="font-family:&quot;Liberation Serif&quot;,serif;font-weight:bold;font-size:23px" fill="#111">-15</text>
<text x="66.3" y="466.8" text-anchor="middle" style="font-family:&quot;Liberation Serif&quot;,serif;font-weight:bold;font-size:23px" fill="#111">-25</text>
<text x="127.76" y="466.8" text-anchor="middle" style="font-family:&quot;Liberation Serif&quot;,serif;font-weight:bold;font-size:23px" fill="#111">-15</text>
<text x="189.22" y="466.8" text-anchor="middle" style="font-family:&quot;Liberation Serif&quot;,serif;font-weight:bold;font-size:23px" fill="#111">-5</text>
<text x="250.68" y="466.8" text-anchor="middle" style="font-family:&quot;Liberation Serif&quot;,serif;font-weight:bold;font-size:23px" fill="#111">5</text>
<text x="312.14" y="466.8" text-anchor="middle" style="font-family:&quot;Liberation Serif&quot;,serif;font-weight:bold;font-size:23px" fill="#111">15</text>
<text x="373.6" y="466.8" text-anchor="middle" style="font-family:&quot;Liberation Serif&quot;,serif;font-weight:bold;font-size:23px" fill="#111">25</text>
<rect x="143.5" y="311.5" width="13.8" height="13.8" fill="#3f4cc4" stroke="#2a3590" stroke-width="0.9"/>
<rect x="132.5" y="324.8" width="13.8" height="13.8" fill="#3f4cc4" stroke="#2a3590" stroke-width="0.9"/>
<rect x="140.1" y="329.1" width="13.8" height="13.8" fill="#3f4cc4" stroke="#2a3590" stroke-width="0.9"/>
<rect x="138.4" y="335.4" width="13.8" height="13.8" fill="#3f4cc4" stroke="#2a3590" stroke-width="0.9"/>
<rect x="126.8" y="358.9" width="13.8" height="13.8" fill="#3f4cc4" stroke="#2a3590" stroke-width="0.9"/>
<rect x="101.8" y="399" width="13.8" height="13.8" fill="#3f4cc4" stroke="#2a3590" stroke-width="0.9"/>
<polygon points="171.8,314.9 178.6,326.9 165,326.9" fill="#c90000" stroke="#7a0000" stroke-width="0.9"/>
<polygon points="171,321 177.8,333 164.2,333" fill="#c90000" stroke="#7a0000" stroke-width="0.9"/>
<polygon points="167,328 173.8,340 160.2,340" fill="#c90000" stroke="#7a0000" stroke-width="0.9"/>
<polygon points="163,331 169.8,343 156.2,343" fill="#c90000" stroke="#7a0000" stroke-width="0.9"/>
<polygon points="202.4,338 216,338 209.2,350" fill="#ffe81c" stroke="#c8ae00" stroke-width="0.9"/>
<polygon points="199.9,351.9 213.5,351.9 206.7,363.9" fill="#ffe81c" stroke="#c8ae00" stroke-width="0.9"/>
<polygon points="206.3,364 219.9,364 213.1,376" fill="#ffe81c" stroke="#c8ae00" stroke-width="0.9"/>
<polygon points="194.4,373.9 208,373.9 201.2,385.9" fill="#ffe81c" stroke="#c8ae00" stroke-width="0.9"/>
<polygon points="190.6,397.5 204.2,397.5 197.4,409.5" fill="#ffe81c" stroke="#c8ae00" stroke-width="0.9"/>
<polygon points="261,332.2 268.8,340 261,347.8 253.2,340" fill="#0aa8ee" stroke="#0a86c4" stroke-width="0.9"/>
<polygon points="258.1,336.1 265.9,343.9 258.1,351.7 250.3,343.9" fill="#0aa8ee" stroke="#0a86c4" stroke-width="0.9"/>
<polygon points="254.3,370.9 262.1,378.7 254.3,386.5 246.5,378.7" fill="#0aa8ee" stroke="#0a86c4" stroke-width="0.9"/>
<polygon points="244.7,374.2 252.5,382 244.7,389.8 236.9,382" fill="#0aa8ee" stroke="#0a86c4" stroke-width="0.9"/>
<polygon points="259.3,409.6 267.1,417.4 259.3,425.2 251.5,417.4" fill="#0aa8ee" stroke="#0a86c4" stroke-width="0.9"/>
<polygon points="274.9,298.5 282.4,304 279.54,312.9 270.26,312.9 267.4,304" fill="#9b23bd" stroke="#661487" stroke-width="0.9"/>
<polygon points="268.5,333.8 276,339.3 273.14,348.2 263.86,348.2 261,339.3" fill="#9b23bd" stroke="#661487" stroke-width="0.9"/>
<polygon points="267.6,324.4 275.1,329.9 272.24,338.8 262.96,338.8 260.1,329.9" fill="#9b23bd" stroke="#661487" stroke-width="0.9"/>
<polygon points="270.3,343.1 277.8,348.6 274.94,357.5 265.66,357.5 262.8,348.6" fill="#9b23bd" stroke="#661487" stroke-width="0.9"/>
<polygon points="264,363 271.5,368.5 268.64,377.4 259.36,377.4 256.5,368.5" fill="#9b23bd" stroke="#661487" stroke-width="0.9"/>
<polygon points="262.7,400.7 270.2,406.2 267.34,415.1 258.06,415.1 255.2,406.2" fill="#9b23bd" stroke="#661487" stroke-width="0.9"/>
<polygon points="284.3,311.4 291.3,315.3 291.3,323.1 284.3,327 277.3,323.1 277.3,315.3" fill="#ff9500" stroke="#c87000" stroke-width="0.9"/>
<polygon points="278.5,319.8 285.5,323.7 285.5,331.5 278.5,335.4 271.5,331.5 271.5,323.7" fill="#ff9500" stroke="#c87000" stroke-width="0.9"/>
<polygon points="282.8,324.9 289.8,328.8 289.8,336.6 282.8,340.5 275.8,336.6 275.8,328.8" fill="#ff9500" stroke="#c87000" stroke-width="0.9"/>
<polygon points="277.2,332.2 284.2,336.1 284.2,343.9 277.2,347.8 270.2,343.9 270.2,336.1" fill="#ff9500" stroke="#c87000" stroke-width="0.9"/>
<polygon points="284.4,337 291.4,340.9 291.4,348.7 284.4,352.6 277.4,348.7 277.4,340.9" fill="#ff9500" stroke="#c87000" stroke-width="0.9"/>
<rect x="385.2" y="260" width="16" height="14.6" fill="#3f4cc4" stroke="#2a3590" stroke-width="1.0"/>
<text x="407.2" y="269.6" style="font-family:&quot;Liberation Sans&quot;,sans-serif;font-weight:bold;font-size:14.2px" fill="#151515">YRW-PM-6h</text>
<polygon points="393.2,277 401.1,289.8 385.3,289.8" fill="#c90000" stroke="#7a0000" stroke-width="1.0"/>
<text x="407.2" y="288.3" style="font-family:&quot;Liberation Sans&quot;,sans-serif;font-weight:bold;font-size:14.2px" fill="#151515">YRW-PM-12h</text>
<polygon points="385.3,297.8 401.1,297.8 393.2,310.6" fill="#ffe81c" stroke="#c8ae00" stroke-width="1.0"/>
<text x="407.2" y="306.9" style="font-family:&quot;Liberation Sans&quot;,sans-serif;font-weight:bold;font-size:14.2px" fill="#151515">YRW-PM-18h</text>
<polygon points="393.2,312.9 402,321.2 393.2,329.5 384.4,321.2" fill="#0aa8ee" stroke="#0a86c4" stroke-width="1.0"/>
<text x="407.2" y="325.6" style="font-family:&quot;Liberation Sans&quot;,sans-serif;font-weight:bold;font-size:14.2px" fill="#151515">YRW-PM-24h</text>
<polygon points="393.2,331.1 401.6,336.83 398.39,346.1 388.01,346.1 384.8,336.83" fill="#9b23bd" stroke="#661487" stroke-width="1.0"/>
<text x="407.2" y="344.2" style="font-family:&quot;Liberation Sans&quot;,sans-serif;font-weight:bold;font-size:14.2px" fill="#151515">YRW-PM-32h</text>
<polygon points="393.2,348.9 401.2,353.1 401.2,361.5 393.2,365.7 385.2,361.5 385.2,353.1" fill="#ff9500" stroke="#c87000" stroke-width="1.0"/>
<text x="407.2" y="362.8" style="font-family:&quot;Liberation Sans&quot;,sans-serif;font-weight:bold;font-size:14.2px" fill="#151515">YRW-PM-36h</text>
<text x="521.5" y="268" style="font-family:&quot;Liberation Sans&quot;,sans-serif;font-weight:bold;font-size:23px" fill="#000">D</text>
<ellipse cx="730" cy="351" rx="131.9" ry="79.2" fill="none" stroke="#c8c8c8" stroke-width="1.3"/>
<line x1="576.5" y1="351.25" x2="883.7" y2="351.25" stroke="#76767a" stroke-width="1.6"/>
<line x1="729.8" y1="260.6" x2="729.8" y2="441.6" stroke="#74747c" stroke-width="1.3"/>
<line x1="576.5" y1="261" x2="576.5" y2="441.6" stroke="#5a5a5a" stroke-width="1.5"/>
<line x1="576.5" y1="441.6" x2="883.7" y2="441.6" stroke="#5a5a5a" stroke-width="1.5"/>
<line x1="573" y1="441.6" x2="576.5" y2="441.6" stroke="#5a5a5a" stroke-width="1.2"/>
<line x1="573" y1="426.55" x2="576.5" y2="426.55" stroke="#5a5a5a" stroke-width="1.2"/>
<line x1="573" y1="411.5" x2="576.5" y2="411.5" stroke="#5a5a5a" stroke-width="1.2"/>
<line x1="573" y1="396.45" x2="576.5" y2="396.45" stroke="#5a5a5a" stroke-width="1.2"/>
<line x1="573" y1="381.4" x2="576.5" y2="381.4" stroke="#5a5a5a" stroke-width="1.2"/>
<line x1="573" y1="366.35" x2="576.5" y2="366.35" stroke="#5a5a5a" stroke-width="1.2"/>
<line x1="573" y1="351.3" x2="576.5" y2="351.3" stroke="#5a5a5a" stroke-width="1.2"/>
<line x1="573" y1="336.25" x2="576.5" y2="336.25" stroke="#5a5a5a" stroke-width="1.2"/>
<line x1="573" y1="321.2" x2="576.5" y2="321.2" stroke="#5a5a5a" stroke-width="1.2"/>
<line x1="573" y1="306.15" x2="576.5" y2="306.15" stroke="#5a5a5a" stroke-width="1.2"/>
<line x1="573" y1="291.1" x2="576.5" y2="291.1" stroke="#5a5a5a" stroke-width="1.2"/>
<line x1="573" y1="276.05" x2="576.5" y2="276.05" stroke="#5a5a5a" stroke-width="1.2"/>
<line x1="573" y1="261" x2="576.5" y2="261" stroke="#5a5a5a" stroke-width="1.2"/>
<line x1="576.5" y1="441.6" x2="576.5" y2="444.6" stroke="#5a5a5a" stroke-width="1.2"/>
<line x1="637.94" y1="441.6" x2="637.94" y2="444.6" stroke="#5a5a5a" stroke-width="1.2"/>
<line x1="699.38" y1="441.6" x2="699.38" y2="444.6" stroke="#5a5a5a" stroke-width="1.2"/>
<line x1="760.82" y1="441.6" x2="760.82" y2="444.6" stroke="#5a5a5a" stroke-width="1.2"/>
<line x1="822.26" y1="441.6" x2="822.26" y2="444.6" stroke="#5a5a5a" stroke-width="1.2"/>
<line x1="883.7" y1="441.6" x2="883.7" y2="444.6" stroke="#5a5a5a" stroke-width="1.2"/>
<text x="567.3" y="266.7" text-anchor="end" style="font-family:&quot;Liberation Serif&quot;,serif;font-weight:bold;font-size:23px" fill="#111">15</text>
<text x="567.3" y="296.8" text-anchor="end" style="font-family:&quot;Liberation Serif&quot;,serif;font-weight:bold;font-size:23px" fill="#111">10</text>
<text x="567.3" y="326.9" text-anchor="end" style="font-family:&quot;Liberation Serif&quot;,serif;font-weight:bold;font-size:23px" fill="#111">5</text>
<text x="567.3" y="357" text-anchor="end" style="font-family:&quot;Liberation Serif&quot;,serif;font-weight:bold;font-size:23px" fill="#111">0</text>
<text x="567.3" y="387.1" text-anchor="end" style="font-family:&quot;Liberation Serif&quot;,serif;font-weight:bold;font-size:23px" fill="#111">-5</text>
<text x="567.3" y="417.2" text-anchor="end" style="font-family:&quot;Liberation Serif&quot;,serif;font-weight:bold;font-size:23px" fill="#111">-10</text>
<text x="567.3" y="447.3" text-anchor="end" style="font-family:&quot;Liberation Serif&quot;,serif;font-weight:bold;font-size:23px" fill="#111">-15</text>
<text x="576.5" y="465.6" text-anchor="middle" style="font-family:&quot;Liberation Serif&quot;,serif;font-weight:bold;font-size:23px" fill="#111">-25</text>
<text x="637.94" y="465.6" text-anchor="middle" style="font-family:&quot;Liberation Serif&quot;,serif;font-weight:bold;font-size:23px" fill="#111">-15</text>
<text x="699.38" y="465.6" text-anchor="middle" style="font-family:&quot;Liberation Serif&quot;,serif;font-weight:bold;font-size:23px" fill="#111">-5</text>
<text x="760.82" y="465.6" text-anchor="middle" style="font-family:&quot;Liberation Serif&quot;,serif;font-weight:bold;font-size:23px" fill="#111">5</text>
<text x="822.26" y="465.6" text-anchor="middle" style="font-family:&quot;Liberation Serif&quot;,serif;font-weight:bold;font-size:23px" fill="#111">15</text>
<text x="883.7" y="465.6" text-anchor="middle" style="font-family:&quot;Liberation Serif&quot;,serif;font-weight:bold;font-size:23px" fill="#111">25</text>
<clipPath id="clipD"><rect x="560" y="260.3" width="340" height="200"/></clipPath><g clip-path="url(#clipD)">
<rect x="648.9" y="337" width="13.8" height="13.8" fill="#3f4cc4" stroke="#2a3590" stroke-width="0.9"/>
<rect x="655.3" y="340.3" width="13.8" height="13.8" fill="#3f4cc4" stroke="#2a3590" stroke-width="0.9"/>
<rect x="654.5" y="347.8" width="13.8" height="13.8" fill="#3f4cc4" stroke="#2a3590" stroke-width="0.9"/>
<rect x="661.6" y="351.4" width="13.8" height="13.8" fill="#3f4cc4" stroke="#2a3590" stroke-width="0.9"/>
<rect x="674.4" y="383.9" width="13.8" height="13.8" fill="#3f4cc4" stroke="#2a3590" stroke-width="0.9"/>
<polygon points="684.2,273.5 691,285.5 677.4,285.5" fill="#c90000" stroke="#7a0000" stroke-width="0.9"/>
<polygon points="697,332 703.8,344 690.2,344" fill="#c90000" stroke="#7a0000" stroke-width="0.9"/>
<polygon points="701,333 707.8,345 694.2,345" fill="#c90000" stroke="#7a0000" stroke-width="0.9"/>
<polygon points="708.4,350.3 715.2,362.3 701.6,362.3" fill="#c90000" stroke="#7a0000" stroke-width="0.9"/>
<polygon points="721.3,394.5 728.1,406.5 714.5,406.5" fill="#c90000" stroke="#7a0000" stroke-width="0.9"/>
<polygon points="728,408.2 734.8,420.2 721.2,420.2" fill="#c90000" stroke="#7a0000" stroke-width="0.9"/>
<polygon points="661.4,336.6 675,336.6 668.2,348.6" fill="#ffe81c" stroke="#c8ae00" stroke-width="0.9"/>
<polygon points="667.3,341.1 680.9,341.1 674.1,353.1" fill="#ffe81c" stroke="#c8ae00" stroke-width="0.9"/>
<polygon points="666.6,349.9 680.2,349.9 673.4,361.9" fill="#ffe81c" stroke="#c8ae00" stroke-width="0.9"/>
<polygon points="672.3,353.1 685.9,353.1 679.1,365.1" fill="#ffe81c" stroke="#c8ae00" stroke-width="0.9"/>
<polygon points="675.2,357.5 688.8,357.5 682,369.5" fill="#ffe81c" stroke="#c8ae00" stroke-width="0.9"/>
<polygon points="756.3,258.4 764.1,266.2 756.3,274 748.5,266.2" fill="#0aa8ee" stroke="#0a86c4" stroke-width="0.9"/>
<polygon points="768.7,291.9 776.5,299.7 768.7,307.5 760.9,299.7" fill="#0aa8ee" stroke="#0a86c4" stroke-width="0.9"/>
<polygon points="765.7,299.7 773.5,307.5 765.7,315.3 757.9,307.5" fill="#0aa8ee" stroke="#0a86c4" stroke-width="0.9"/>
<polygon points="778.8,324.6 786.6,332.4 778.8,340.2 771,332.4" fill="#0aa8ee" stroke="#0a86c4" stroke-width="0.9"/>
<polygon points="773.7,331.9 781.5,339.7 773.7,347.5 765.9,339.7" fill="#0aa8ee" stroke="#0a86c4" stroke-width="0.9"/>
<polygon points="778.2,352.6 786,360.4 778.2,368.2 770.4,360.4" fill="#0aa8ee" stroke="#0a86c4" stroke-width="0.9"/>
<polygon points="767.9,325.2 775.4,330.7 772.54,339.6 763.26,339.6 760.4,330.7" fill="#9b23bd" stroke="#661487" stroke-width="0.9"/>
<polygon points="763,331.7 770.5,337.2 767.64,346.1 758.36,346.1 755.5,337.2" fill="#9b23bd" stroke="#661487" stroke-width="0.9"/>
<polygon points="767.9,350.1 775.4,355.6 772.54,364.5 763.26,364.5 760.4,355.6" fill="#9b23bd" stroke="#661487" stroke-width="0.9"/>
<polygon points="773.5,362.5 781,368 778.14,376.9 768.86,376.9 766,368" fill="#9b23bd" stroke="#661487" stroke-width="0.9"/>
<polygon points="770.9,370.3 778.4,375.8 775.54,384.7 766.26,384.7 763.4,375.8" fill="#9b23bd" stroke="#661487" stroke-width="0.9"/>
<polygon points="776.5,390.5 784,396 781.14,404.9 771.86,404.9 769,396" fill="#9b23bd" stroke="#661487" stroke-width="0.9"/>
<polygon points="788.3,332.2 795.3,336.1 795.3,343.9 788.3,347.8 781.3,343.9 781.3,336.1" fill="#ff9500" stroke="#c87000" stroke-width="0.9"/>
<polygon points="793,338.3 800,342.2 800,350 793,353.9 786,350 786,342.2" fill="#ff9500" stroke="#c87000" stroke-width="0.9"/>
<polygon points="789.1,347.8 796.1,351.7 796.1,359.5 789.1,363.4 782.1,359.5 782.1,351.7" fill="#ff9500" stroke="#c87000" stroke-width="0.9"/>
<polygon points="795.8,353.4 802.8,357.3 802.8,365.1 795.8,369 788.8,365.1 788.8,357.3" fill="#ff9500" stroke="#c87000" stroke-width="0.9"/>
<polygon points="793.1,387.4 800.1,391.3 800.1,399.1 793.1,403 786.1,399.1 786.1,391.3" fill="#ff9500" stroke="#c87000" stroke-width="0.9"/>
</g>
<rect x="898.7" y="253.5" width="16" height="14.6" fill="#3f4cc4" stroke="#2a3590" stroke-width="1.0"/>
<text x="921" y="263.2" style="font-family:&quot;Liberation Sans&quot;,sans-serif;font-weight:bold;font-size:14.1px" fill="#151515">BD-PM-6h</text>
<polygon points="906.7,270.6 914.6,283.4 898.8,283.4" fill="#c90000" stroke="#7a0000" stroke-width="1.0"/>
<text x="921" y="281.9" style="font-family:&quot;Liberation Sans&quot;,sans-serif;font-weight:bold;font-size:14.1px" fill="#151515">BD-PM-12h</text>
<polygon points="898.8,292.1 914.6,292.1 906.7,304.9" fill="#ffe81c" stroke="#c8ae00" stroke-width="1.0"/>
<text x="921" y="300.6" style="font-family:&quot;Liberation Sans&quot;,sans-serif;font-weight:bold;font-size:14.1px" fill="#151515">BD-PM-18h</text>
<polygon points="906.7,306.7 915.5,315 906.7,323.3 897.9,315" fill="#0aa8ee" stroke="#0a86c4" stroke-width="1.0"/>
<text x="921" y="319.3" style="font-family:&quot;Liberation Sans&quot;,sans-serif;font-weight:bold;font-size:14.1px" fill="#151515">BD-PM-24h</text>
<polygon points="906.7,325.1 915.1,330.83 911.89,340.1 901.51,340.1 898.3,330.83" fill="#9b23bd" stroke="#661487" stroke-width="1.0"/>
<text x="921" y="338" style="font-family:&quot;Liberation Sans&quot;,sans-serif;font-weight:bold;font-size:14.1px" fill="#151515">BD-PM-32h</text>
<polygon points="906.7,342.6 914.7,346.8 914.7,355.2 906.7,359.4 898.7,355.2 898.7,346.8" fill="#ff9500" stroke="#c87000" stroke-width="1.0"/>
<text x="921" y="356.7" style="font-family:&quot;Liberation Sans&quot;,sans-serif;font-weight:bold;font-size:14.1px" fill="#151515">BD-PM-36h</text>
<text x="2.2" y="499.8" style="font-family:&quot;Liberation Sans&quot;,sans-serif;font-weight:bold;font-size:23px" fill="#000">E</text>
<ellipse cx="219.2" cy="586.2" rx="134.9" ry="81.5" fill="none" stroke="#c8c8c8" stroke-width="1.3"/>
<line x1="66.3" y1="587" x2="373.6" y2="587" stroke="#b0b0b6" stroke-width="1.8"/>
<line x1="219.5" y1="496.2" x2="219.5" y2="676.9" stroke="#8e8e98" stroke-width="1.5"/>
<line x1="66.3" y1="496.6" x2="66.3" y2="676.9" stroke="#5a5a5a" stroke-width="1.5"/>
<line x1="66.3" y1="676.9" x2="373.6" y2="676.9" stroke="#5a5a5a" stroke-width="1.5"/>
<line x1="62.8" y1="676.9" x2="66.3" y2="676.9" stroke="#5a5a5a" stroke-width="1.2"/>
<line x1="62.8" y1="661.88" x2="66.3" y2="661.88" stroke="#5a5a5a" stroke-width="1.2"/>
<line x1="62.8" y1="646.85" x2="66.3" y2="646.85" stroke="#5a5a5a" stroke-width="1.2"/>
<line x1="62.8" y1="631.83" x2="66.3" y2="631.83" stroke="#5a5a5a" stroke-width="1.2"/>
<line x1="62.8" y1="616.8" x2="66.3" y2="616.8" stroke="#5a5a5a" stroke-width="1.2"/>
<line x1="62.8" y1="601.77" x2="66.3" y2="601.77" stroke="#5a5a5a" stroke-width="1.2"/>
<line x1="62.8" y1="586.75" x2="66.3" y2="586.75" stroke="#5a5a5a" stroke-width="1.2"/>
<line x1="62.8" y1="571.73" x2="66.3" y2="571.73" stroke="#5a5a5a" stroke-width="1.2"/>
<line x1="62.8" y1="556.7" x2="66.3" y2="556.7" stroke="#5a5a5a" stroke-width="1.2"/>
<line x1="62.8" y1="541.67" x2="66.3" y2="541.67" stroke="#5a5a5a" stroke-width="1.2"/>
<line x1="62.8" y1="526.65" x2="66.3" y2="526.65" stroke="#5a5a5a" stroke-width="1.2"/>
<line x1="62.8" y1="511.62" x2="66.3" y2="511.62" stroke="#5a5a5a" stroke-width="1.2"/>
<line x1="62.8" y1="496.6" x2="66.3" y2="496.6" stroke="#5a5a5a" stroke-width="1.2"/>
<line x1="66.3" y1="676.9" x2="66.3" y2="679.9" stroke="#5a5a5a" stroke-width="1.2"/>
<line x1="127.76" y1="676.9" x2="127.76" y2="679.9" stroke="#5a5a5a" stroke-width="1.2"/>
<line x1="189.22" y1="676.9" x2="189.22" y2="679.9" stroke="#5a5a5a" stroke-width="1.2"/>
<line x1="250.68" y1="676.9" x2="250.68" y2="679.9" stroke="#5a5a5a" stroke-width="1.2"/>
<line x1="312.14" y1="676.9" x2="312.14" y2="679.9" stroke="#5a5a5a" stroke-width="1.2"/>
<line x1="373.6" y1="676.9" x2="373.6" y2="679.9" stroke="#5a5a5a" stroke-width="1.2"/>
<text x="56.6" y="502.3" text-anchor="end" style="font-family:&quot;Liberation Serif&quot;,serif;font-weight:bold;font-size:23px" fill="#111">15</text>
<text x="56.6" y="532.35" text-anchor="end" style="font-family:&quot;Liberation Serif&quot;,serif;font-weight:bold;font-size:23px" fill="#111">10</text>
<text x="56.6" y="562.4" text-anchor="end" style="font-family:&quot;Liberation Serif&quot;,serif;font-weight:bold;font-size:23px" fill="#111">5</text>
<text x="56.6" y="592.45" text-anchor="end" style="font-family:&quot;Liberation Serif&quot;,serif;font-weight:bold;font-size:23px" fill="#111">0</text>
<text x="56.6" y="622.5" text-anchor="end" style="font-family:&quot;Liberation Serif&quot;,serif;font-weight:bold;font-size:23px" fill="#111">-5</text>
<text x="56.6" y="652.55" text-anchor="end" style="font-family:&quot;Liberation Serif&quot;,serif;font-weight:bold;font-size:23px" fill="#111">-10</text>
<text x="56.6" y="682.6" text-anchor="end" style="font-family:&quot;Liberation Serif&quot;,serif;font-weight:bold;font-size:23px" fill="#111">-15</text>
<text x="66.3" y="700.9" text-anchor="middle" style="font-family:&quot;Liberation Serif&quot;,serif;font-weight:bold;font-size:23px" fill="#111">-25</text>
<text x="127.76" y="700.9" text-anchor="middle" style="font-family:&quot;Liberation Serif&quot;,serif;font-weight:bold;font-size:23px" fill="#111">-15</text>
<text x="189.22" y="700.9" text-anchor="middle" style="font-family:&quot;Liberation Serif&quot;,serif;font-weight:bold;font-size:23px" fill="#111">-5</text>
<text x="250.68" y="700.9" text-anchor="middle" style="font-family:&quot;Liberation Serif&quot;,serif;font-weight:bold;font-size:23px" fill="#111">5</text>
<text x="312.14" y="700.9" text-anchor="middle" style="font-family:&quot;Liberation Serif&quot;,serif;font-weight:bold;font-size:23px" fill="#111">15</text>
<text x="373.6" y="700.9" text-anchor="middle" style="font-family:&quot;Liberation Serif&quot;,serif;font-weight:bold;font-size:23px" fill="#111">25</text>
<rect x="156" y="549.1" width="13.8" height="13.8" fill="#3f4cc4" stroke="#2a3590" stroke-width="0.9"/>
<rect x="140.3" y="568.9" width="13.8" height="13.8" fill="#3f4cc4" stroke="#2a3590" stroke-width="0.9"/>
<rect x="146.5" y="569.6" width="13.8" height="13.8" fill="#3f4cc4" stroke="#2a3590" stroke-width="0.9"/>
<rect x="149.4" y="575" width="13.8" height="13.8" fill="#3f4cc4" stroke="#2a3590" stroke-width="0.9"/>
<rect x="139.5" y="590.9" width="13.8" height="13.8" fill="#3f4cc4" stroke="#2a3590" stroke-width="0.9"/>
<rect x="130.1" y="640.7" width="13.8" height="13.8" fill="#3f4cc4" stroke="#2a3590" stroke-width="0.9"/>
<polygon points="187.9,548 194.7,560 181.1,560" fill="#c90000" stroke="#7a0000" stroke-width="0.9"/>
<polygon points="181.2,560.4 188,572.4 174.4,572.4" fill="#c90000" stroke="#7a0000" stroke-width="0.9"/>
<polygon points="176.2,570.2 183,582.2 169.4,582.2" fill="#c90000" stroke="#7a0000" stroke-width="0.9"/>
<polygon points="171.5,598 178.3,610 164.7,610" fill="#c90000" stroke="#7a0000" stroke-width="0.9"/>
<polygon points="180,593 186.8,605 173.2,605" fill="#c90000" stroke="#7a0000" stroke-width="0.9"/>
<polygon points="177.5,598 184.3,610 170.7,610" fill="#c90000" stroke="#7a0000" stroke-width="0.9"/>
<polygon points="179.5,551.4 193.1,551.4 186.3,563.4" fill="#ffe81c" stroke="#c8ae00" stroke-width="0.9"/>
<polygon points="169.3,588 182.9,588 176.1,600" fill="#ffe81c" stroke="#c8ae00" stroke-width="0.9"/>
<polygon points="166.7,598.1 180.3,598.1 173.5,610.1" fill="#ffe81c" stroke="#c8ae00" stroke-width="0.9"/>
<polygon points="174,595.9 187.6,595.9 180.8,607.9" fill="#ffe81c" stroke="#c8ae00" stroke-width="0.9"/>
<polygon points="175.1,599.8 188.7,599.8 181.9,611.8" fill="#ffe81c" stroke="#c8ae00" stroke-width="0.9"/>
<polygon points="175.2,632.7 188.8,632.7 182,644.7" fill="#ffe81c" stroke="#c8ae00" stroke-width="0.9"/>
<polygon points="268.2,551.5 276,559.3 268.2,567.1 260.4,559.3" fill="#0aa8ee" stroke="#0a86c4" stroke-width="0.9"/>
<polygon points="268.2,560.5 276,568.3 268.2,576.1 260.4,568.3" fill="#0aa8ee" stroke="#0a86c4" stroke-width="0.9"/>
<polygon points="269.9,571.8 277.7,579.6 269.9,587.4 262.1,579.6" fill="#0aa8ee" stroke="#0a86c4" stroke-width="0.9"/>
<polygon points="267.9,581.3 275.7,589.1 267.9,596.9 260.1,589.1" fill="#0aa8ee" stroke="#0a86c4" stroke-width="0.9"/>
<polygon points="272,603.4 279.8,611.2 272,619 264.2,611.2" fill="#0aa8ee" stroke="#0a86c4" stroke-width="0.9"/>
<polygon points="275.1,624.9 282.9,632.7 275.1,640.5 267.3,632.7" fill="#0aa8ee" stroke="#0a86c4" stroke-width="0.9"/>
<polygon points="255.3,528.3 262.8,533.8 259.94,542.7 250.66,542.7 247.8,533.8" fill="#9b23bd" stroke="#661487" stroke-width="0.9"/>
<polygon points="251,539.8 258.5,545.3 255.64,554.2 246.36,554.2 243.5,545.3" fill="#9b23bd" stroke="#661487" stroke-width="0.9"/>
<polygon points="256,542.3 263.5,547.8 260.64,556.7 251.36,556.7 248.5,547.8" fill="#9b23bd" stroke="#661487" stroke-width="0.9"/>
<polygon points="258.7,567.3 266.2,572.8 263.34,581.7 254.06,581.7 251.2,572.8" fill="#9b23bd" stroke="#661487" stroke-width="0.9"/>
<polygon points="260.6,618.9 268.1,624.4 265.24,633.3 255.96,633.3 253.1,624.4" fill="#9b23bd" stroke="#661487" stroke-width="0.9"/>
<polygon points="275.2,554.3 282.2,558.2 282.2,566 275.2,569.9 268.2,566 268.2,558.2" fill="#ff9500" stroke="#c87000" stroke-width="0.9"/>
<polygon points="280.8,583.8 287.8,587.7 287.8,595.5 280.8,599.4 273.8,595.5 273.8,587.7" fill="#ff9500" stroke="#c87000" stroke-width="0.9"/>
<polygon points="280.6,590.9 287.6,594.8 287.6,602.6 280.6,606.5 273.6,602.6 273.6,594.8" fill="#ff9500" stroke="#c87000" stroke-width="0.9"/>
<polygon points="288.1,637.9 295.1,641.8 295.1,649.6 288.1,653.5 281.1,649.6 281.1,641.8" fill="#ff9500" stroke="#c87000" stroke-width="0.9"/>
<polygon points="286.9,649.9 293.9,653.8 293.9,661.6 286.9,665.5 279.9,661.6 279.9,653.8" fill="#ff9500" stroke="#c87000" stroke-width="0.9"/>
<rect x="384.2" y="494.2" width="16" height="14.6" fill="#3f4cc4" stroke="#2a3590" stroke-width="1.0"/>
<text x="406.3" y="504.4" style="font-family:&quot;Liberation Sans&quot;,sans-serif;font-weight:bold;font-size:14.3px" fill="#151515">BY-PM-6h</text>
<polygon points="392.2,511.2 400.1,524 384.3,524" fill="#c90000" stroke="#7a0000" stroke-width="1.0"/>
<text x="406.3" y="523.1" style="font-family:&quot;Liberation Sans&quot;,sans-serif;font-weight:bold;font-size:14.3px" fill="#151515">BY-PM-12h</text>
<polygon points="384.3,533 400.1,533 392.2,545.8" fill="#ffe81c" stroke="#c8ae00" stroke-width="1.0"/>
<text x="406.3" y="541.7" style="font-family:&quot;Liberation Sans&quot;,sans-serif;font-weight:bold;font-size:14.3px" fill="#151515">BY-PM-18h</text>
<polygon points="392.2,547.5 401,555.8 392.2,564.1 383.4,555.8" fill="#0aa8ee" stroke="#0a86c4" stroke-width="1.0"/>
<text x="406.3" y="560.4" style="font-family:&quot;Liberation Sans&quot;,sans-serif;font-weight:bold;font-size:14.3px" fill="#151515">BY-PM-24h</text>
<polygon points="392.2,565.6 400.6,571.33 397.39,580.6 387.01,580.6 383.8,571.33" fill="#9b23bd" stroke="#661487" stroke-width="1.0"/>
<text x="406.3" y="579" style="font-family:&quot;Liberation Sans&quot;,sans-serif;font-weight:bold;font-size:14.3px" fill="#151515">BY-PM-32h</text>
<polygon points="392.2,583.5 400.2,587.7 400.2,596.1 392.2,600.3 384.2,596.1 384.2,587.7" fill="#ff9500" stroke="#c87000" stroke-width="1.0"/>
<text x="406.3" y="597.7" style="font-family:&quot;Liberation Sans&quot;,sans-serif;font-weight:bold;font-size:14.3px" fill="#151515">BY-PM-36h</text>
</svg>
</body></html>
